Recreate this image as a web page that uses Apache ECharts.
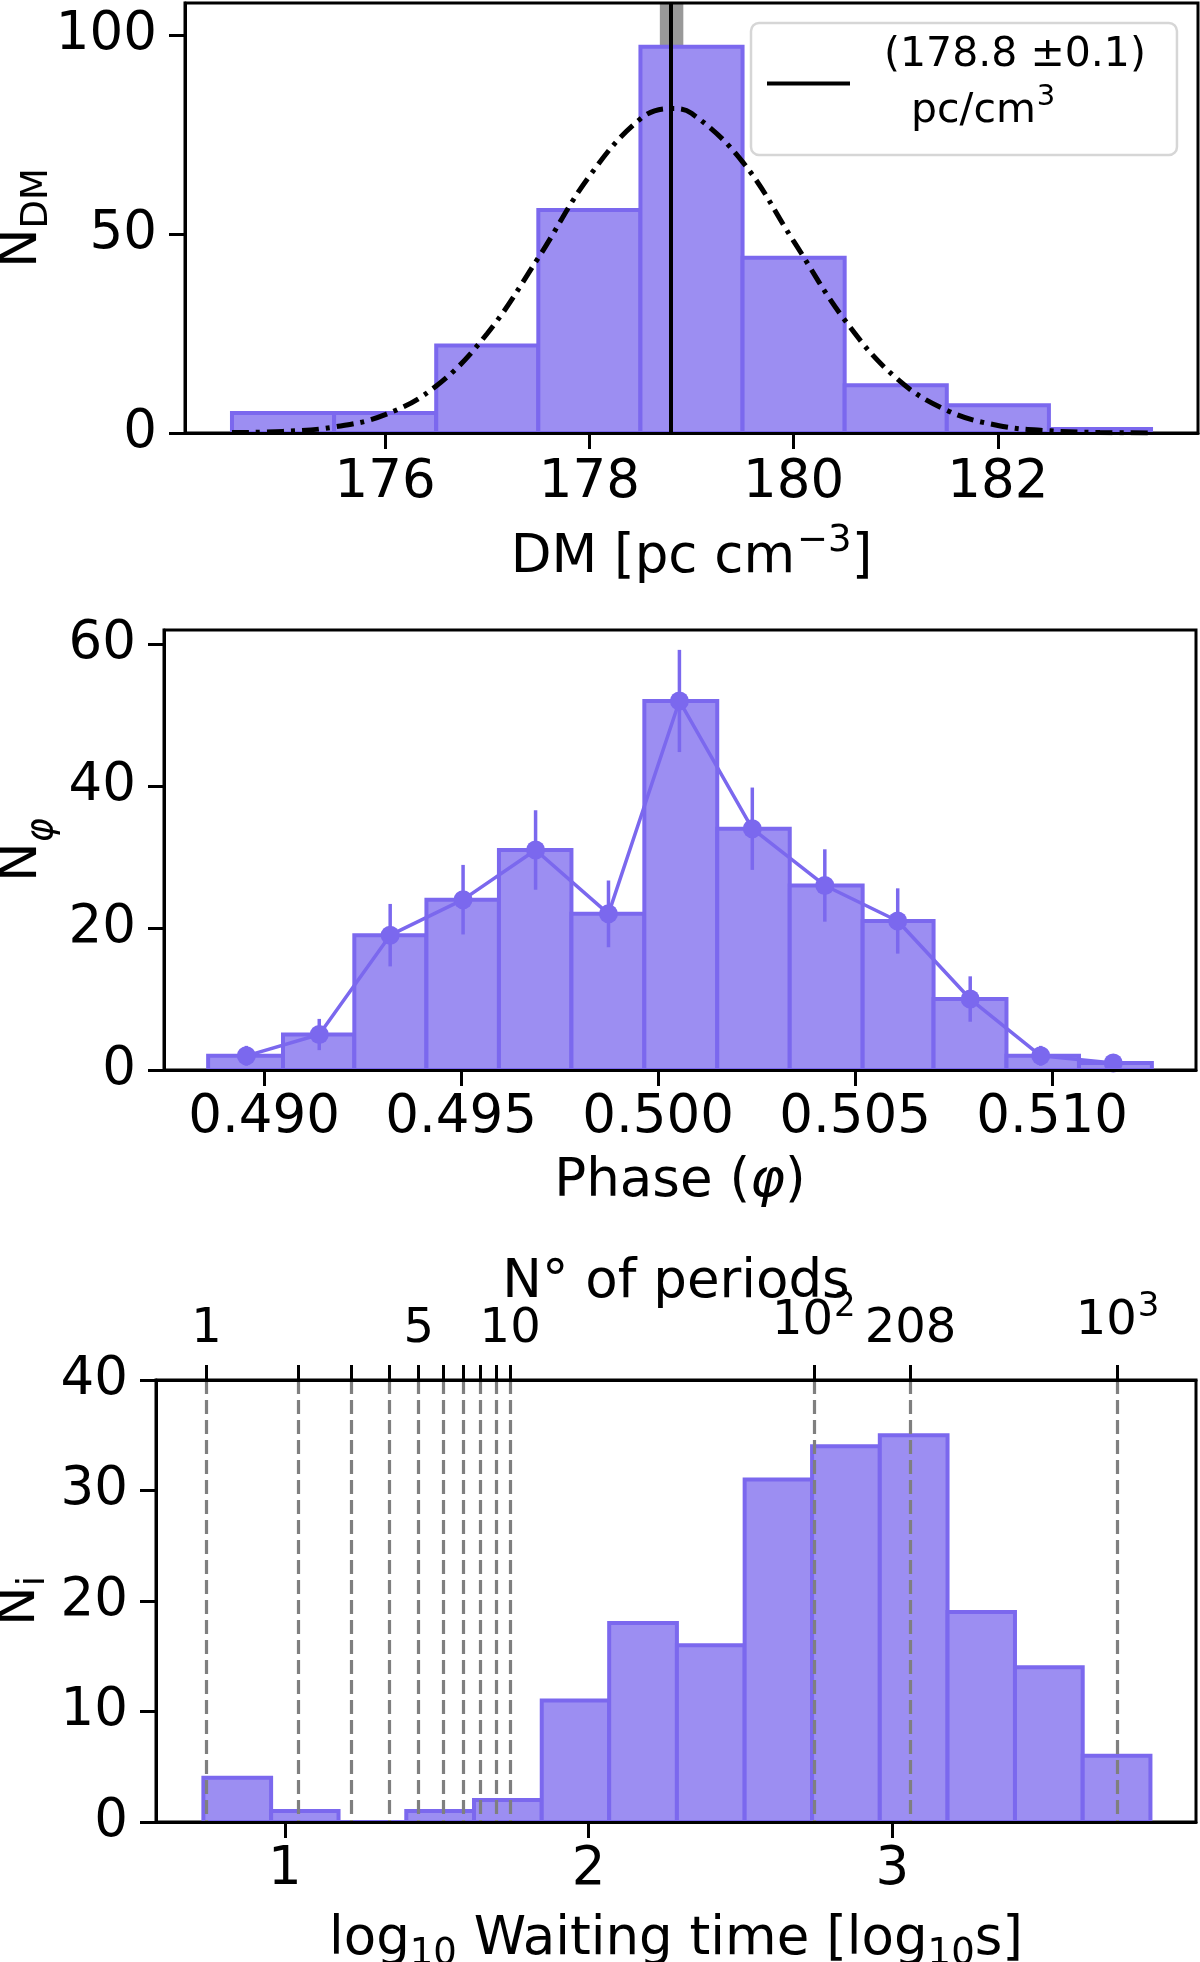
<!DOCTYPE html>
<html>
<head>
<meta charset="utf-8">
<title>DM / phase / waiting time histograms</title>
<script src="https://cdn.jsdelivr.net/npm/echarts@6/dist/echarts.min.js"></script>
<style>
  html, body { margin: 0; padding: 0; background: #fff; }
  #main { width: 1200px; height: 1962px; }
</style>
</head>
<body>
<div id="main"></div>
<script>
// ---- panel 1 : DM histogram ----
var dmEdges = [174.5, 175.5, 176.5, 177.5, 178.5, 179.5, 180.5, 181.5, 182.5, 183.5];
var dmCounts = [5, 5, 22, 56, 97, 44, 12, 7, 1];
// fitted gaussian
var dmFitX = [174.5, 175.0, 175.5, 176.0, 176.5, 177.0, 177.5, 178.0, 178.5, 178.8,
              179.0, 179.5, 180.0, 180.5, 181.0, 181.5, 182.0, 182.5, 183.0, 183.5];
var dmFitY = [0.1, 0.4, 1.5, 4.6, 11.8, 25.0, 44.0, 64.5, 78.9, 81.5,
              80.3, 68.1, 48.2, 28.4, 13.9, 5.7, 1.9, 0.55, 0.13, 0.03];
var dmBest = 178.8;
var dmBand = [178.69, 178.92];
var dmLegend = '(178.8 ±0.1) pc/cm3';
var dmTicks = [176, 178, 180, 182];
var dmYTicks = [0, 50, 100];

// ---- panel 2 : phase histogram ----
var phEdges = [0.48858, 0.49048, 0.49229, 0.49412, 0.49596, 0.49780, 0.49965,
               0.50150, 0.50334, 0.50519, 0.50699, 0.50884, 0.51068, 0.51253];
var phCounts = [2, 5, 19, 24, 31, 22, 52, 34, 26, 21, 10, 2, 1];
var phCenters = [0.48955, 0.49140, 0.49320, 0.49505, 0.49689, 0.49874, 0.50054,
                 0.50239, 0.50423, 0.50608, 0.50792, 0.50971, 0.51155];
var phErrors = [1.4, 2.2, 4.4, 4.9, 5.6, 4.7, 7.2, 5.8, 5.1, 4.6, 3.2, 1.4, 1.0];
var phTicks = [0.490, 0.495, 0.500, 0.505, 0.510];
var phYTicks = [0, 20, 40, 60];

// ---- panel 3 : waiting time histogram ----
var wtEdges = [0.732, 0.955, 1.177, 1.400, 1.623, 1.846, 2.068, 2.291,
               2.514, 2.736, 2.959, 3.182, 3.404, 3.627, 3.850];
var wtCounts = [4, 1, 0, 1, 2, 11, 18, 16, 31, 34, 35, 19, 14, 6];
var wtTicks = [1, 2, 3];
var logPeriod = 0.742;        // log10 of the period in s
var nPerTicks = [1, 2, 3, 4, 5, 6, 7, 8, 9, 10, 100, 208, 1000];
var nPerLabels = [1, 5, 10, 100, 208, 1000];
var nPerText = ['1', '5', '10', '{a|10}{s|2}', '208', '{a|10}{s|3}'];

var FONT = 'DejaVu Sans';
var barFill = '#9c8ef2';
var barEdge = '#7b68ee';
var TICK_FS = 53, NAME_FS = 53;

function histData(edges, counts) {
  var out = [];
  for (var i = 0; i < counts.length; i++) out.push([edges[i], edges[i + 1], counts[i]]);
  return out;
}

function histItem(params, api) {
  var p0 = api.coord([api.value(0), 0]);
  var p1 = api.coord([api.value(1), api.value(2)]);
  return {
    type: 'rect',
    shape: { x: p0[0], y: p1[1], width: p1[0] - p0[0], height: p0[1] - p1[1] },
    style: { fill: barFill, stroke: barEdge, lineWidth: 4 }
  };
}

function errItem(params, api) {
  var x = api.value(0), v = api.value(1), e = api.value(2);
  var a = api.coord([x, v - e]), b = api.coord([x, v + e]);
  return {
    type: 'line',
    shape: { x1: a[0], y1: a[1], x2: b[0], y2: b[1] },
    style: { stroke: barEdge, lineWidth: 3.5 }
  };
}

var axLine = { show: true, onZero: false, lineStyle: { color: '#000', width: 3 } };
function tick(vals, len) {
  var t = { show: true, length: len || 16, lineStyle: { color: '#000', width: 3 } };
  if (vals) t.customValues = vals;
  return t;
}
function lab(vals, margin, fmt) {
  var l = { color: '#000', fontSize: TICK_FS, fontFamily: FONT, margin: margin };
  if (vals) l.customValues = vals;
  if (fmt) l.formatter = fmt;
  return l;
}
function txt(size, extra) {
  var s = { color: '#000', fontSize: size, fontFamily: FONT };
  for (var k in extra) s[k] = extra[k];
  return s;
}
function yName(shift, italic) {
  return txt(NAME_FS, {
    rich: {
      n: txt(NAME_FS, {}),
      s: txt(37, { fontStyle: italic ? 'italic' : 'normal', padding: [shift, 0, 0, 0] })
    }
  });
}

var phErrData = [], phPts = [];
for (var i = 0; i < phCounts.length; i++) {
  phErrData.push([phCenters[i], phCounts[i], phErrors[i]]);
  phPts.push([phCenters[i], phCounts[i]]);
}
var dmFit = [];
for (var j = 0; j < dmFitX.length; j++) dmFit.push([dmFitX[j], dmFitY[j]]);

var chart = echarts.init(document.getElementById('main'));

var gridBase = { show: true, borderColor: '#000', borderWidth: 3, backgroundColor: 'transparent',
                 outerBoundsMode: 'none', containLabel: false };
function grid(o) { var g = {}; for (var k in gridBase) g[k] = gridBase[k]; for (var m in o) g[m] = o[m]; return g; }

var option = {
  animation: false,
  backgroundColor: '#fff',
  grid: [
    grid({ left: 185, right: 2, top: 3, height: 430 }),
    grid({ left: 164, right: 4, top: 630, height: 440 }),
    grid({ left: 156, right: 4, top: 1380, height: 442 })
  ],
  legend: {
    data: [dmLegend],
    left: 751, top: 23,
    padding: [12, 31, 15, 16],
    backgroundColor: 'rgba(255,255,255,0.8)',
    borderColor: '#d6d6d6', borderWidth: 2.5, borderRadius: 8,
    icon: 'rect', itemWidth: 83, itemHeight: 4,
    selectedMode: false,
    formatter: function () { return '{t|(178.8 ±0.1)}\n{p|pc/cm}{s|3}'; },
    textStyle: txt(41, {
      rich: {
        t: txt(41, { lineHeight: 56, padding: [0, 0, 0, 29] }),
        p: txt(41, { lineHeight: 56, padding: [0, 0, 0, 56] }),
        s: txt(29, { lineHeight: 56, padding: [0, 0, 28, 1] })
      }
    })
  },
  xAxis: [
    { gridIndex: 0, type: 'value', min: 174.04, max: 183.96, z: 10,
      axisLine: axLine, axisTick: tick(dmTicks), axisLabel: lab(dmTicks, 24), splitLine: { show: false },
      name: '{a|DM [pc cm}{s|−3}{a|]}', nameLocation: 'middle', nameGap: 90,
      nameTextStyle: txt(NAME_FS, { rich: { a: txt(NAME_FS, {}), s: txt(37, { padding: [0, 0, 34, 2] }) } }) },
    { gridIndex: 1, type: 'value', min: 0.48746, max: 0.51365, z: 10,
      axisLine: axLine, axisTick: tick(phTicks),
      axisLabel: lab(phTicks, 22, function (v) { return v.toFixed(3); }), splitLine: { show: false },
      name: '{a|Phase (}{i|φ}{a|)}', nameLocation: 'middle', nameGap: 86,
      nameTextStyle: txt(NAME_FS, { rich: { a: txt(NAME_FS, {}), i: txt(NAME_FS, { fontStyle: 'italic' }) } }) },
    { gridIndex: 2, type: 'value', min: 0.576, max: 4.0, z: 10,
      axisLine: axLine, axisTick: tick(wtTicks), axisLabel: lab(wtTicks, 22), splitLine: { show: false },
      name: '{a|log}{b|10}{a| Waiting time [log}{b|10}{a|s]}', nameLocation: 'middle', nameGap: 86,
      nameTextStyle: txt(NAME_FS, { rich: { a: txt(NAME_FS, {}), b: txt(37, { padding: [28, 0, 0, 0] }) } }) },
    { gridIndex: 2, type: 'log', logBase: 10, position: 'top', z: 10,
      min: Math.pow(10, 0.576 - logPeriod), max: Math.pow(10, 4.0 - logPeriod),
      axisLine: axLine, axisTick: tick(nPerTicks, 15),
      axisLabel: {
        color: '#000', fontSize: 48, fontFamily: FONT, margin: 26, customValues: nPerLabels,
        rich: { a: txt(48, {}), s: txt(34, { padding: [0, 0, 30, 1] }) },
        formatter: function (v) {
          var best = 0;
          for (var k = 1; k < nPerLabels.length; k++) {
            if (Math.abs(nPerLabels[k] - v) < Math.abs(nPerLabels[best] - v)) best = k;
          }
          return nPerText[best];
        } },
      splitLine: { show: true, lineStyle: { color: '#7f7f7f', width: 3.2, type: [14, 6] } },
      name: 'N° of periods', nameLocation: 'middle', nameGap: 70, nameMoveOverlap: false,
      nameTextStyle: txt(NAME_FS, {}) }
  ],
  yAxis: [
    { gridIndex: 0, type: 'value', min: 0, max: 108,
      axisLine: axLine, axisTick: tick(dmYTicks), axisLabel: lab(dmYTicks, 28), splitLine: { show: false },
      name: '{n|N}{s|DM}', nameLocation: 'middle', nameGap: 129, nameMoveOverlap: false,
      nameTextStyle: yName(30) },
    { gridIndex: 1, type: 'value', min: 0, max: 62,
      axisLine: axLine, axisTick: tick(phYTicks), axisLabel: lab(phYTicks, 28), splitLine: { show: false },
      name: '{n|N}{s|φ}', nameLocation: 'middle', nameGap: 103, nameMoveOverlap: false,
      nameTextStyle: yName(40, true) },
    { gridIndex: 2, type: 'value', min: 0, max: 40, interval: 10,
      axisLine: axLine, axisTick: tick(null), axisLabel: lab(null, 28), splitLine: { show: false },
      name: '{n|N}{s|i}', nameLocation: 'middle', nameGap: 103, nameMoveOverlap: false,
      nameTextStyle: yName(28) }
  ],
  series: [
    { type: 'custom', xAxisIndex: 0, yAxisIndex: 0, z: 2, renderItem: histItem,
      data: histData(dmEdges, dmCounts), encode: { x: [0, 1], y: 2 } },
    { type: 'line', xAxisIndex: 0, yAxisIndex: 0, z: 3, data: dmFit, smooth: 0.4,
      showSymbol: false, symbol: 'none',
      lineStyle: { color: '#000', width: 5, type: [17, 7, 4, 7] } },
    { type: 'line', name: dmLegend, xAxisIndex: 0, yAxisIndex: 0, z: 4, data: [],
      itemStyle: { color: '#000' }, lineStyle: { color: '#000' },
      markArea: { silent: true, itemStyle: { color: 'rgba(0,0,0,0.4)' },
        data: [[{ xAxis: dmBand[0] }, { xAxis: dmBand[1] }]] },
      markLine: { silent: true, symbol: ['none', 'none'], label: { show: false },
        lineStyle: { color: '#000', width: 4, type: 'solid' },
        data: [{ xAxis: dmBest }] } },
    { type: 'custom', xAxisIndex: 1, yAxisIndex: 1, z: 2, renderItem: histItem,
      data: histData(phEdges, phCounts), encode: { x: [0, 1], y: 2 } },
    { type: 'custom', xAxisIndex: 1, yAxisIndex: 1, z: 3, renderItem: errItem,
      data: phErrData, encode: { x: 0, y: 1 } },
    { type: 'line', xAxisIndex: 1, yAxisIndex: 1, z: 4, data: phPts,
      symbol: 'circle', symbolSize: 19,
      itemStyle: { color: barEdge }, lineStyle: { color: barEdge, width: 3.5 } },
    { type: 'custom', xAxisIndex: 2, yAxisIndex: 2, z: 2, renderItem: histItem,
      data: histData(wtEdges, wtCounts), encode: { x: [0, 1], y: 2 } }
  ]
};

chart.setOption(option);
</script>
</body>
</html>
